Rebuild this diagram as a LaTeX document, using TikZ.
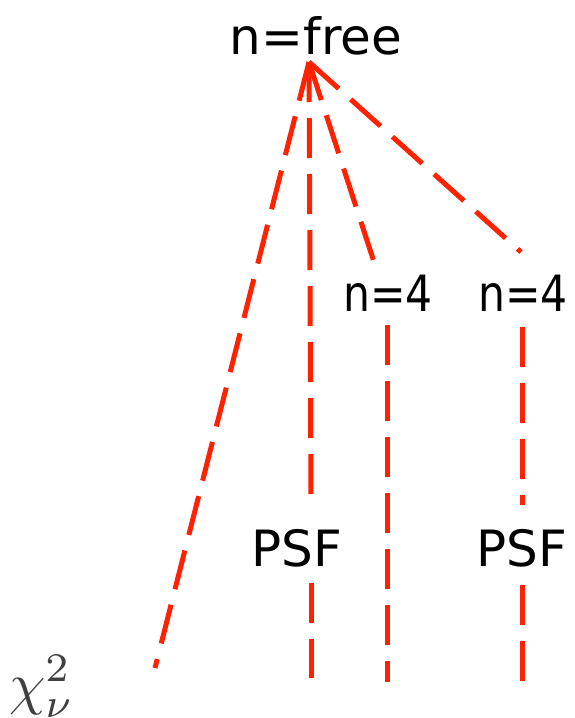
\documentclass[tikz,border=0pt]{standalone}
\usepackage{fontspec}
\setmainfont{DejaVu Sans}
\definecolor{dashred}{RGB}{255,34,0}
\begin{document}
\begin{tikzpicture}[x=1pt,y=-1pt,
  lbl/.style={inner sep=0pt,font=\fontsize{50}{56}\selectfont},
  conn/.style={draw=dashred,line width=5pt,dash pattern=on 40pt off 16pt}]
\useasboundingbox (0,0) rectangle (575,718);
\node[lbl] (free) at (316,36) {n=free};
\coordinate (apex) at (309,62);
\node[lbl] (n4a) at (388,293) {\scalebox{0.85}[1]{n=4}};
\node[lbl] (n4b) at (523,293) {\scalebox{0.85}[1]{n=4}};
\node[lbl] (psfa) at (297,548) {PSF};
\node[lbl] (psfb) at (522,548) {PSF};
\node[inner sep=0pt,text=black!75,anchor=base west] (chi) at (9,703) {\scalebox{5.8}{$\chi^2_\nu$}};
\coordinate (chiend) at (155,668);
\coordinate (psfatop) at (311,505);
\coordinate (psfabot) at (311,583);
\coordinate (psfaend) at (311,678);
\coordinate (n4atop) at (374,262);
\coordinate (n4abot) at (387,325);
\coordinate (n4aend) at (387,682);
\coordinate (n4btop) at (521,252);
\coordinate (n4bbot) at (522,327);
\coordinate (psfbtop) at (522,505);
\coordinate (psfbbot) at (522,585);
\coordinate (psfbend) at (522,685);
\draw[conn] (apex) -- (chiend);
\draw[conn] (apex) -- (psfatop);
\draw[conn] (apex) -- (n4atop);
\draw[conn] (apex) -- (n4btop);
\draw[conn] (n4abot) -- (n4aend);
\draw[conn] (n4bbot) -- (psfbtop);
\draw[conn] (psfabot) -- (psfaend);
\draw[conn] (psfbbot) -- (psfbend);
\end{tikzpicture}
\end{document}
